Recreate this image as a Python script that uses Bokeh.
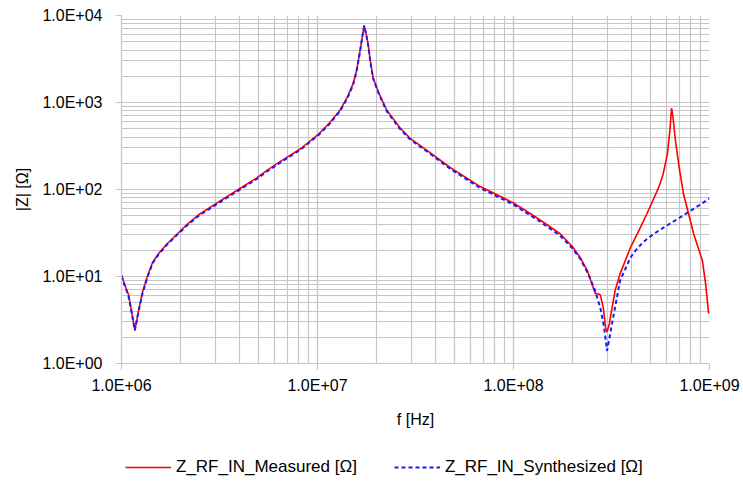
from bokeh.plotting import figure
from bokeh.layouts import column
from bokeh.models import (ColumnDataSource, Legend, LegendItem, LogTicker,
                          CustomJSTickFormatter)
from bokeh.embed import file_html
from bokeh.resources import INLINE

# ---- data ----
f_meas = [1.0e6, 1.04e6, 1.085e6, 1.13e6, 1.17e6, 1.22e6, 1.28e6, 1.35e6, 1.44e6,
          1.55e6, 1.7e6, 1.9e6, 2.17e6, 2.5e6, 3.1e6, 4.0e6, 4.9e6, 5.5e6, 6.5e6,
          8.2e6, 1.02e7, 1.15e7, 1.3e7, 1.42e7, 1.52e7, 1.58e7, 1.64e7, 1.69e7,
          1.73e7, 1.77e7, 1.81e7, 1.86e7, 1.92e7, 2.05e7, 2.26e7, 2.63e7, 2.96e7,
          3.75e7, 4.75e7, 6.76e7, 1.0e8, 1.32e8, 1.73e8, 2.0e8, 2.19e8, 2.38e8,
          2.5e8, 2.61e8, 2.7e8, 2.77e8, 2.87e8, 2.95e8, 3.0e8, 3.08e8, 3.12e8,
          3.3e8, 3.5e8, 3.95e8, 4.4e8, 4.8e8, 5.5e8, 5.8e8, 6.1e8, 6.3e8, 6.4e8,
          6.5e8, 6.7e8, 7.0e8, 7.36e8, 8.3e8, 9.2e8, 9.55e8, 9.9e8, 1.0e9]
z_meas = [10.4, 8.0, 6.2, 3.8, 2.4, 4.0, 6.6, 9.8, 14.5,
          18.5, 23.5, 30, 40, 52, 71, 102, 136, 165, 212,
          294, 440, 580, 809, 1150, 1650, 2300, 3660, 5600,
          7700, 6200, 4770, 3000, 1940, 1300, 809, 516, 390,
          266, 179, 108, 70, 47, 31, 22, 16.5, 11.7,
          8.5, 6.4, 6.3, 6.2, 4.4, 2.6, 2.3, 2.8, 3.4,
          6.9, 10.8, 21.5, 35, 53, 105, 150, 259, 520, 860,
          700, 366, 180, 90, 31, 15.2, 8.3, 3.76, 4.0]

f_syn = [1.0e6, 1.04e6, 1.085e6, 1.13e6, 1.17e6, 1.22e6, 1.28e6, 1.35e6, 1.44e6,
         1.55e6, 1.7e6, 1.9e6, 2.17e6, 2.5e6, 3.1e6, 4.0e6, 4.9e6, 5.5e6, 6.5e6,
         8.2e6, 1.02e7, 1.15e7, 1.3e7, 1.42e7, 1.52e7, 1.58e7, 1.64e7, 1.69e7,
         1.73e7, 1.77e7, 1.81e7, 1.86e7, 1.92e7, 2.05e7, 2.26e7, 2.63e7, 2.96e7,
         3.75e7, 4.75e7, 6.76e7, 1.0e8, 1.32e8, 1.73e8, 2.0e8, 2.19e8, 2.38e8,
         2.45e8, 2.6e8, 2.77e8, 2.9e8, 3.0e8, 3.08e8, 3.2e8, 3.5e8, 3.95e8,
         4.2e8, 4.6e8, 5.2e8, 6.0e8, 7.0e8, 8.5e8, 1.0e9]
z_syn = [10.2, 7.8, 6.0, 3.7, 2.4, 3.9, 6.4, 9.5, 14.2,
         18.0, 23.0, 29.3, 39, 50.5, 69, 99, 132, 160, 206,
         287, 430, 565, 790, 1120, 1600, 2250, 3600, 5500,
         7600, 6100, 4700, 2950, 1900, 1270, 790, 500, 378,
         258, 173, 104, 67, 45, 29.5, 21, 16.0, 11.2,
         9.7, 7.0, 4.4, 2.6, 1.4, 1.9, 3.1, 9.0, 16.5,
         20, 25, 31, 38, 47, 62, 79]

x_label = "f [Hz]"
y_label = "|Z| [Ω]"
name_meas = "Z_RF_IN_Measured [Ω]"
name_syn = "Z_RF_IN_Synthesized [Ω]"

FONT = "Liberation Sans"
GRID = "#c6c6c6"
RED = "#ff0000"
BLUE = "#1a1aff"

MAIN_H = 440
p = figure(width=743, height=MAIN_H, x_axis_type="log", y_axis_type="log",
           x_range=(1e6, 1e9), y_range=(1, 1e4),
           output_backend="svg", toolbar_location=None,
           min_border_left=121, min_border_right=34, min_border_top=15,
           min_border_bottom=MAIN_H - 363)
p.outline_line_color = None
p.background_fill_color = "white"

src_m = ColumnDataSource(dict(f=f_meas, z=z_meas))
src_s = ColumnDataSource(dict(f=f_syn, z=z_syn))

p.line("f", "z", source=src_m, line_color=RED, line_width=1.6)
p.line("f", "z", source=src_s, line_color=BLUE, line_width=2.0, line_dash="4 3")

fmt = CustomJSTickFormatter(code="""
const e = Math.round(Math.log10(tick));
const s = e < 0 ? "-" : "+";
const a = Math.abs(e);
return "1.0E" + s + (a < 10 ? "0" + a : "" + a);
""")

for ax, lab in ((p.xaxis[0], x_label), (p.yaxis[0], y_label)):
    ax.ticker = LogTicker(num_minor_ticks=10, desired_num_ticks=6)
    ax.formatter = fmt
    ax.axis_label = lab
    ax.axis_label_text_font = FONT
    ax.axis_label_text_font_size = "16px"
    ax.axis_label_text_font_style = "normal"
    ax.axis_label_text_color = "#000000"
    ax.major_label_text_font = FONT
    ax.major_label_text_font_size = "16px"
    ax.major_label_text_color = "#000000"
    ax.axis_line_color = GRID
    ax.axis_line_width = 1.2
    ax.major_tick_line_color = GRID
    ax.major_tick_line_width = 1.2
    ax.major_tick_out = 6
    ax.major_tick_in = 0
    ax.minor_tick_out = 0
    ax.minor_tick_in = 0

p.xaxis[0].major_label_standoff = 7
p.xaxis[0].axis_label_standoff = 14
p.yaxis[0].major_label_standoff = 13
p.yaxis[0].axis_label_standoff = 8

for g in (p.xgrid[0], p.ygrid[0]):
    g.grid_line_color = GRID
    g.grid_line_width = 1.2
    g.minor_grid_line_color = GRID
    g.minor_grid_line_width = 1.2

# ---- legend strip below the chart (frame aligned with the chart frame) ----
LEG_H = 485 - MAIN_H
lf = figure(width=743, height=LEG_H, x_range=(0, 1), y_range=(0, 1),
            output_backend="svg", toolbar_location=None,
            x_axis_location=None, y_axis_location=None,
            min_border_left=121, min_border_right=0, min_border_top=0,
            min_border_bottom=0)
lf.outline_line_color = None
lf.grid.visible = False
nan = float("nan")
lm = lf.line(x=[nan], y=[nan], line_color=RED, line_width=1.6)
ls = lf.line(x=[nan], y=[nan], line_color=BLUE, line_width=2.0, line_dash="4 3")

legend = Legend(items=[LegendItem(label=name_meas, renderers=[lm]),
                       LegendItem(label=name_syn, renderers=[ls])],
                orientation="horizontal", location=(4, LEG_H - 37),
                margin=0, padding=0, spacing=37, glyph_width=46,
                label_standoff=5, border_line_color=None,
                background_fill_alpha=0, label_text_font=FONT,
                label_text_font_size="17px", label_text_color="#000000")
lf.add_layout(legend, "center")

layout = column(p, lf, spacing=0)
open("out.html", "w").write(file_html(layout, INLINE))
